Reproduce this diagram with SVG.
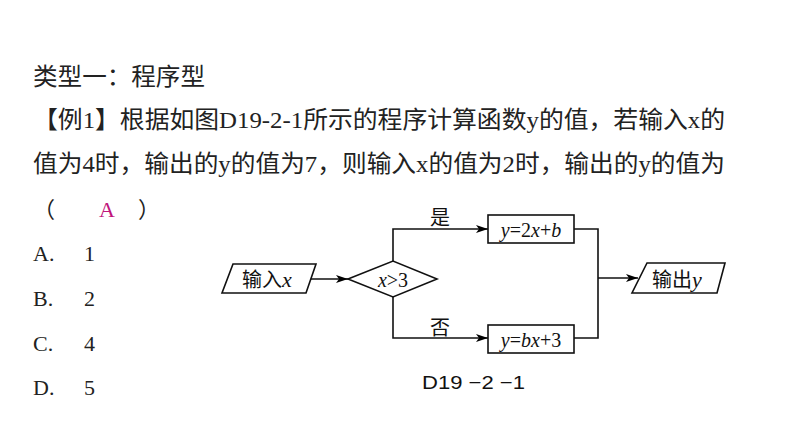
<svg xmlns="http://www.w3.org/2000/svg" width="794" height="447" viewBox="0 0 794 447">
<defs>
<marker id="arr" viewBox="0 0 12 8" refX="12" refY="4" markerWidth="12" markerHeight="8" markerUnits="userSpaceOnUse" orient="auto">
<path d="M0,0 L12,4 L0,8 L3,4 Z" fill="#000"/>
</marker>
</defs>
<style>
.t{font-family:"Liberation Serif","Noto Sans CJK SC",serif;font-size:24px;fill:#222}
.o{font-family:"Liberation Serif","Noto Sans CJK SC",serif;font-size:22px;fill:#222}
.f{font-family:"Liberation Serif","Noto Sans CJK SC",serif;font-size:20px;fill:#111}
.m{font-family:"Liberation Serif",serif;font-style:italic}
.shape{fill:#fff;stroke:#111;stroke-width:1.6}
.line{fill:none;stroke:#111;stroke-width:1.6}
</style>
<rect width="794" height="447" fill="#fff"/>
<g id="question">
<text class="t" x="33" y="85" textLength="172" lengthAdjust="spacingAndGlyphs">类型一：程序型</text>
<text class="t" x="33" y="128" textLength="692" lengthAdjust="spacingAndGlyphs">【例1】根据如图D19-2-1所示的程序计算函数y的值，若输入x的</text>
<text class="t" x="33" y="172" textLength="692" lengthAdjust="spacingAndGlyphs">值为4时，输出的y的值为7，则输入x的值为2时，输出的y的值为</text>
<text class="o" x="33" y="217">（</text>
<text class="o" x="99" y="217" style="fill:#c0167c">A</text>
<text class="o" x="138" y="217">）</text>
</g>
<g id="options">
<text class="o" x="33" y="261">A.</text><text class="o" x="84" y="261">1</text>
<text class="o" x="33" y="306">B.</text><text class="o" x="84" y="306">2</text>
<text class="o" x="33" y="351">C.</text><text class="o" x="84" y="351">4</text>
<text class="o" x="33" y="395">D.</text><text class="o" x="84" y="395">5</text>
</g>
<g id="connectors">
<line class="line" x1="311" y1="279" x2="348" y2="279" marker-end="url(#arr)"/>
<polyline class="line" points="393,261 393,229 488,229" marker-end="url(#arr)"/>
<polyline class="line" points="393,297 393,338 488,338" marker-end="url(#arr)"/>
<polyline class="line" points="574,229 598,229 598,338 574,338"/>
<line class="line" x1="598" y1="278" x2="638" y2="278" marker-end="url(#arr)"/>
<text class="f" x="440" y="225" text-anchor="middle">是</text>
<text class="f" x="440" y="335" text-anchor="middle">否</text>
</g>
<g id="input">
<polygon class="shape" points="233,264 316,264 306,293 222,293"/>
<text class="f" x="242" y="287">输入<tspan class="m" font-size="22">x</tspan></text>
</g>
<g id="decision">
<polygon class="shape" points="348,279 393,261 437,279 393,297"/>
<text class="f" x="393" y="287" text-anchor="middle" font-size="23"><tspan class="m">x</tspan>&gt;3</text>
</g>
<g id="yes-box">
<rect class="shape" x="488" y="215" width="86" height="28"/>
<text class="f" x="531" y="237" text-anchor="middle" font-size="23"><tspan class="m">y</tspan>=2<tspan class="m">x</tspan>+<tspan class="m">b</tspan></text>
</g>
<g id="no-box">
<rect class="shape" x="488" y="325" width="86" height="28"/>
<text class="f" x="531" y="347" text-anchor="middle" font-size="23"><tspan class="m">y</tspan>=<tspan class="m">bx</tspan>+3</text>
</g>
<g id="output">
<polygon class="shape" points="647,263 725,263 717,293 632,293"/>
<text class="f" x="652" y="287">输出<tspan class="m" font-size="22">y</tspan></text>
</g>
<text x="422" y="389" textLength="103" lengthAdjust="spacingAndGlyphs" style="font-family:'Liberation Sans',sans-serif;font-size:19px;fill:#111">D19 −2 −1</text>
</svg>
